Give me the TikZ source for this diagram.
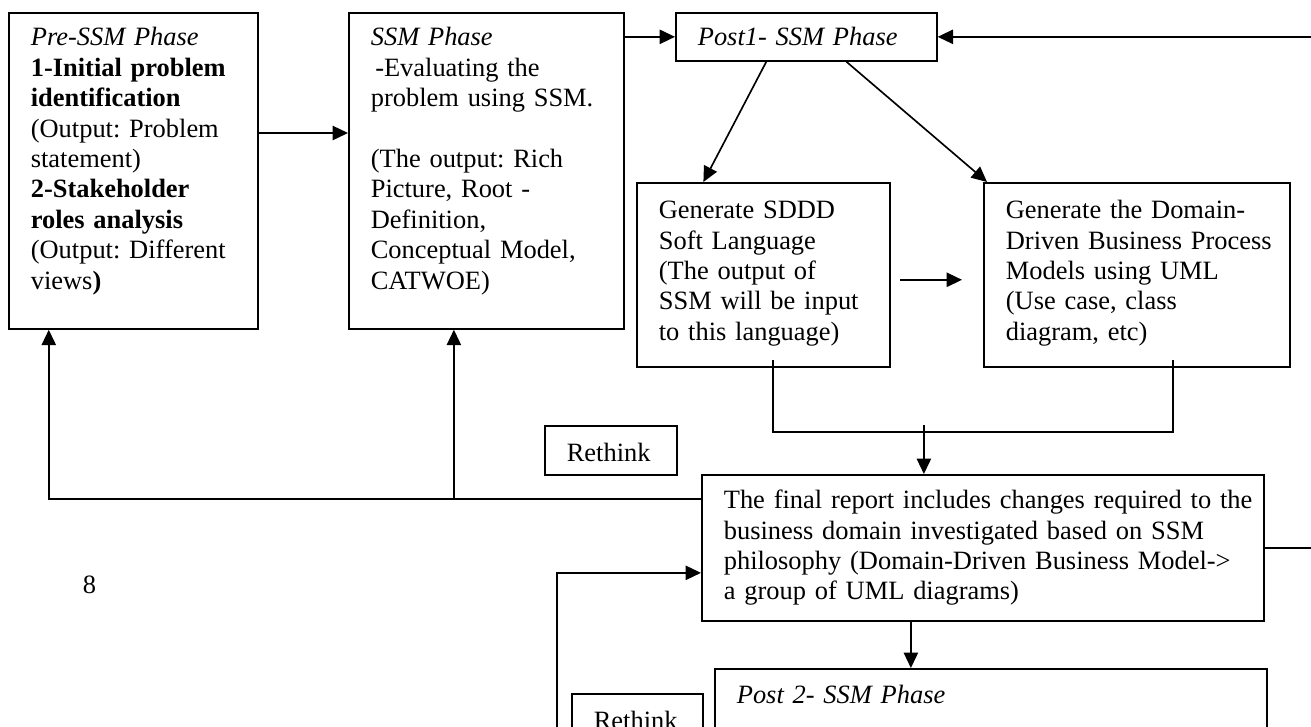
\documentclass[tikz,border=0pt]{standalone}
\usepackage{fontspec}
\setmainfont{Liberation Serif}
\usetikzlibrary{arrows.meta,calc}
\hyphenpenalty=10000
\exhyphenpenalty=10000
\hbadness=10000
\hfuzz=20pt
\frenchspacing

\begin{document}
\begin{tikzpicture}[x=0.454pt, y=-0.454pt,
  phase/.style={draw, line width=0.75pt, anchor=north west, align=left, inner xsep=10pt, inner ysep=0pt, font=\fontsize{12}{13.8}\selectfont},
  arr/.style={line width=0.75pt, -{Triangle[length=7pt,width=6.5pt]}}]
	\useasboundingbox (0,0) rectangle (1311,726);
	\clip (0,0) rectangle (1311,726);

	% top row
	\node[phase, text width=93pt, text height=15pt, text depth=128.5pt] (pre) at (8,12) {\textit{Pre-SSM Phase}\\
		\textbf{1-Initial problem}\\ \textbf{identification}\\ (Output: Problem\\ statement)\\
		\textbf{2-Stakeholder}\\ \textbf{roles analysis}\\ (Output: Different\\ views\textbf{)}};
	\node[phase, text width=104.9pt, text height=15pt, text depth=128.5pt] (ssm) at (348,12) {\textit{SSM Phase}\\
		\hspace*{2pt}-Evaluating the\\ problem using SSM.\\[13.8pt]
		(The output: Rich\\ Picture, Root -\\ Definition,\\ Conceptual Model,\\ CATWOE)};
	\node[phase, text width=98.5pt, text height=15pt, text depth=6.8pt] (post1) at (675,12) {\textit{Post1- SSM Phase}};

	\node[phase, text width=94.9pt, text height=16.3pt, text depth=67.2pt] (sddd) at (636,182) {Generate SDDD\\
		Soft Language\\ (The output of\\ SSM will be input\\ to this language)};
	\node[phase, text width=118.9pt, text height=16.3pt, text depth=67.2pt] (domain) at (983,182) {Generate the Domain-\\
		Driven~Business~Process\\ Models using UML\\ (Use case, class\\ diagram, etc)};

	% lower part
	\node[phase, text width=39.9pt, text height=16.2pt, text depth=6pt] (rethinka) at (544,425) {Rethink};
	\node[phase, text width=235.2pt, text height=15.4pt, text depth=50.9pt] (report) at (701,474) {The~final~report~includes~changes~required~to~the\\
		business domain investigated based on SSM\\ philosophy (Domain-Driven Business Model->\\ a group of UML diagrams)};
	\node[anchor=base west, font=\fontsize{12}{13.8}\selectfont] (pagenum) at (75,593) {8};
	\node[phase, text width=230.6pt, text height=15.9pt, text depth=44.1pt] (post2) at (714,668) {\textit{Post 2- SSM Phase}};
	\node[phase, text width=39.5pt, text height=16.2pt, text depth=6pt] (rethinkb) at (571,693) {Rethink};

	% connectors
	\draw[arr] ($(pre.north east)+(0,121)$) -- ($(ssm.north west)+(0,121)$);
	\draw[arr] (ssm.east |- post1.west) -- (post1.west);
	\draw[arr] ($(post1.south)+(-40,0)$) -- ($(sddd.north)+(-60,0)$);
	\draw[arr] ($(post1.south)+(40,0)$) -- ($(domain.north west)+(4,0)$);
	\draw[arr] ($(sddd.east)+(9,5)$) -- ($(domain.west)+(-21,5)$);

	\coordinate (join) at ($(report.north)+(-59,-42)$);
	\draw[line width=0.75pt] ($(sddd.south)+(9.5,-8)$) |- (join) -| ($(domain.south)+(36,-8)$);
	\draw[arr] ($(join)+(0,-7)$) -- (join |- report.north);

	\coordinate (fb) at ($(ssm.south)+(-32.5,170)$);
	\draw[arr] ($(report.west)+(0,-49)$) -| ($(pre.south)+(-84.5,0)$);
	\draw[arr] (fb) -- (fb |- ssm.south);

	\draw[arr] (report.east) -| ($(post1.east)+(390,0)$) -- (post1.east);

	\coordinate (dn) at ($(report.south)+(-72,0)$);
	\draw[arr] (dn) -- (dn |- post2.north);
	\draw[arr] ($(rethinkb.south west)+(-14,30)$) |- ($(report.west)+(0,25)$);
\end{tikzpicture}
\end{document}
